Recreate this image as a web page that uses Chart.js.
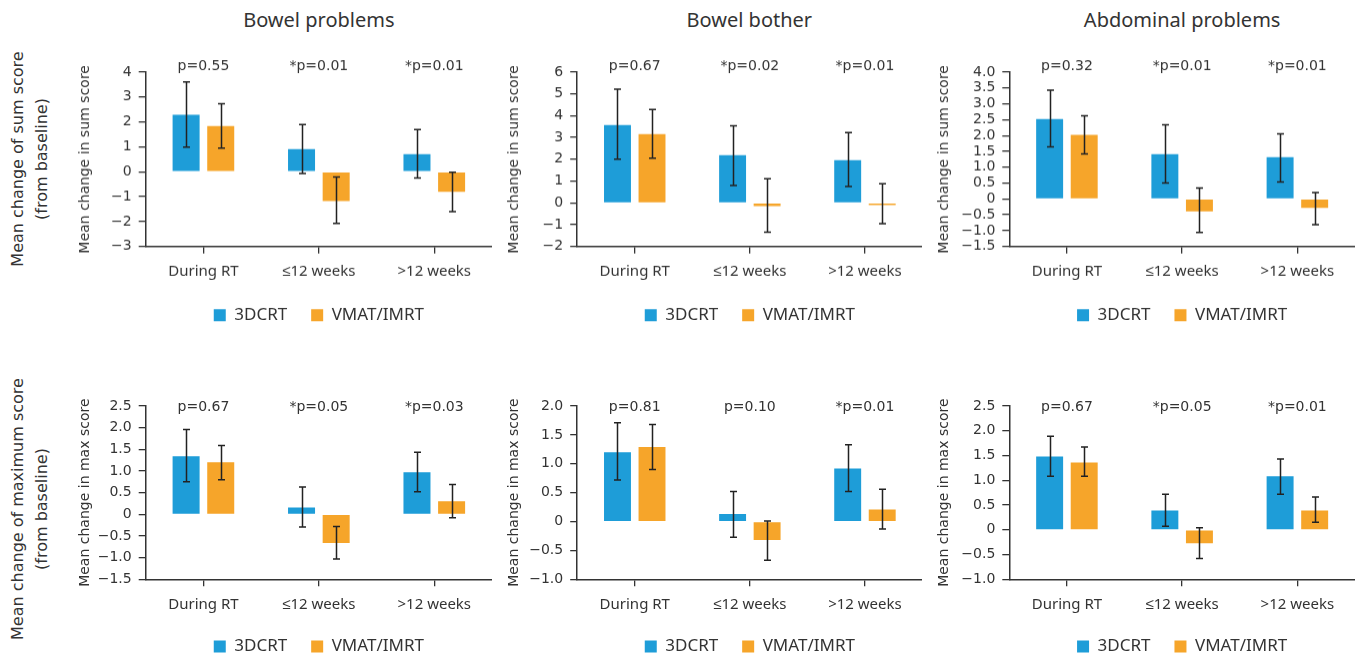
<!DOCTYPE html>
<html>
<head>
<meta charset="utf-8">
<script src="https://cdn.jsdelivr.net/npm/chart.js@4.4.1/dist/chart.umd.min.js"></script>
<style>
html, body { margin: 0; padding: 0; background: #fff; overflow: hidden; }
body { width: 1357px; height: 660px; position: relative; font-family: "DejaVu Sans", sans-serif; color: #333; }
.panel { position: absolute; }
.coltitle { position: absolute; top: 6px; font-family: "Noto Sans", sans-serif; font-size: 20px; transform: translateX(-50%); white-space: nowrap; color: #333; }
.rowtitle { position: absolute; font-size: 16px; line-height: 24px; text-align: center; white-space: nowrap; transform: translate(-50%, -50%) rotate(-90deg); color: #333; }
</style>
</head>
<body>
<script>
//categories and labels

const categories = ['During RT', '\u226412 weeks', '>12 weeks'];
const seriesNames = ['3DCRT', 'VMAT/IMRT'];
const columnTitles = ['Bowel problems', 'Bowel bother', 'Abdominal problems'];
const rowTitles = [['Mean change of sum score', '(from baseline)'], ['Mean change of maximum score', '(from baseline)']];
const yAxisTitles = ['Mean change in sum score', 'Mean change in max score'];

//bowel problems - sum score
const bowelProbSum3D = [2.29, 0.91, 0.71];
const bowelProbSum3DCI = [[0.99, 3.61], [-0.07, 1.89], [-0.25, 1.69]];
const bowelProbSumVM = [1.83, -1.18, -0.81];
const bowelProbSumVMCI = [[0.95, 2.73], [-2.08, -0.21], [-1.6, -0.02]];
const bowelProbSumP = ['p=0.55', '*p=0.01', '*p=0.01'];

//bowel bother - sum score
const bowelBotherSum3D = [3.57, 2.19, 1.96];
const bowelBotherSum3DCI = [[2.0, 5.22], [0.79, 3.54], [0.75, 3.23]];
const bowelBotherSumVM = [3.16, -0.15, -0.1];
const bowelBotherSumVMCI = [[2.05, 4.29], [-1.35, 1.11], [-0.96, 0.88]];
const bowelBotherSumP = ['p=0.67', '*p=0.02', '*p=0.01'];

//abdominal problems - sum score
const abdSum3D = [2.52, 1.41, 1.32];
const abdSum3DCI = [[1.64, 3.43], [0.5, 2.34], [0.53, 2.05]];
const abdSumVM = [2.02, -0.39, -0.28];
const abdSumVMCI = [[1.42, 2.62], [-1.06, 0.34], [-0.81, 0.2]];
const abdSumP = ['p=0.32', '*p=0.01', '*p=0.01'];

//bowel problems - max score
const bowelProbMax3D = [1.34, 0.16, 0.97];
const bowelProbMax3DCI = [[0.75, 1.96], [-0.29, 0.63], [0.52, 1.43]];
const bowelProbMaxVM = [1.2, -0.66, 0.3];
const bowelProbMaxVMCI = [[0.8, 1.59], [-1.03, -0.28], [-0.08, 0.69]];
const bowelProbMaxP = ['p=0.67', '*p=0.05', '*p=0.03'];

//bowel bother - max score
const bowelBotherMax3D = [1.2, 0.13, 0.92];
const bowelBotherMax3DCI = [[0.72, 1.71], [-0.27, 0.52], [0.52, 1.33]];
const bowelBotherMaxVM = [1.29, -0.32, 0.21];
const bowelBotherMaxVMCI = [[0.9, 1.68], [-0.67, 0.01], [-0.13, 0.56]];
const bowelBotherMaxP = ['p=0.81', 'p=0.10', '*p=0.01'];

//abdominal problems - max score
const abdMax3D = [1.48, 0.39, 1.08];
const abdMax3DCI = [[1.08, 1.89], [0.07, 0.72], [0.72, 1.43]];
const abdMaxVM = [1.36, -0.27, 0.39];
const abdMaxVMCI = [[1.08, 1.67], [-0.58, 0.04], [0.15, 0.66]];
const abdMaxP = ['p=0.67', '*p=0.05', '*p=0.01'];

//y axis ranges [min, max, step]
const yRanges = [[-3, 4, 1], [-2, 6, 1], [-1.5, 4, 0.5], [-1.5, 2.5, 0.5], [-1, 2, 0.5], [-1, 2.5, 0.5]];

//panel list (row by row)
const panels = [
	[bowelProbSum3D, bowelProbSum3DCI, bowelProbSumVM, bowelProbSumVMCI, bowelProbSumP],
	[bowelBotherSum3D, bowelBotherSum3DCI, bowelBotherSumVM, bowelBotherSumVMCI, bowelBotherSumP],
	[abdSum3D, abdSum3DCI, abdSumVM, abdSumVMCI, abdSumP],
	[bowelProbMax3D, bowelProbMax3DCI, bowelProbMaxVM, bowelProbMaxVMCI, bowelProbMaxP],
	[bowelBotherMax3D, bowelBotherMax3DCI, bowelBotherMaxVM, bowelBotherMaxVMCI, bowelBotherMaxP],
	[abdMax3D, abdMax3DCI, abdMaxVM, abdMaxVMCI, abdMaxP]
];

//layout
const plotLeft = [145.7, 576.7, 1009.3];
const plotRight = [492, 922, 1355];
const yTitleX = [86, 514.5, 945];
const rowPlotTop = [72.3, 405.7];
const rowPlotBottom = [246, 579];
const rowLegendY = [315, 646.7];
const rowPOffset = [-5.5, 1];
const rowLabelY = [159, 509];

const BLUE = '#1e9dd8';
const ORANGE = '#f6a52a';
const INK = '#333333';
const TICK_FONT = '"DejaVu Sans", sans-serif';

Chart.defaults.font.family = TICK_FONT;
Chart.defaults.color = INK;

//error bars
const errorBarPlugin = {
	id: 'errorBars',
	afterDatasetsDraw(chart) {
		const ctx = chart.ctx;
		const yScale = chart.scales.y;
		ctx.save();
		ctx.strokeStyle = '#222';
		ctx.lineWidth = 1.5;
		chart.data.datasets.forEach((ds, i) => {
			const meta = chart.getDatasetMeta(i);
			meta.data.forEach((bar, j) => {
				const lo = yScale.getPixelForValue(ds.errorBars[j][0]);
				const hi = yScale.getPixelForValue(ds.errorBars[j][1]);
				const x = Math.round(bar.x) + 0.5;
				ctx.beginPath();
				ctx.moveTo(x, lo);
				ctx.lineTo(x, hi);
				ctx.moveTo(x - 3.5, lo);
				ctx.lineTo(x + 3.5, lo);
				ctx.moveTo(x - 3.5, hi);
				ctx.lineTo(x + 3.5, hi);
				ctx.stroke();
			});
		});
		ctx.restore();
	}
};

//p values above each category
const pValuePlugin = {
	id: 'pValues',
	afterDraw(chart, args, opts) {
		const ctx = chart.ctx;
		const xScale = chart.scales.x;
		ctx.save();
		ctx.font = '14px ' + TICK_FONT;
		ctx.fillStyle = INK;
		ctx.textAlign = 'center';
		ctx.textBaseline = 'middle';
		opts.labels.forEach((t, j) => {
			ctx.fillText(t, xScale.getPixelForValue(j), chart.chartArea.top + opts.offset);
		});
		ctx.restore();
	}
};

function formatTick(value, step) {
	if (Math.abs(value) < 1e-9) return '0';
	const s = step < 1 ? value.toFixed(1) : value.toFixed(0);
	return s.replace('-', '\u2212');
}

//column titles
columnTitles.forEach((t, c) => {
	const d = document.createElement('div');
	d.className = 'coltitle';
	d.style.left = ((plotLeft[c] + plotRight[c]) / 2) + 'px';
	d.textContent = t;
	document.body.appendChild(d);
});

//row titles
rowTitles.forEach((lines, r) => {
	const d = document.createElement('div');
	d.className = 'rowtitle';
	d.style.left = '30px';
	d.style.top = rowLabelY[r] + 'px';
	d.innerHTML = lines.join('<br>');
	document.body.appendChild(d);
});

//build the six charts
panels.forEach((p, k) => {
	const r = Math.floor(k / 3);
	const c = k % 3;
	const [ymin, ymax, ystep] = yRanges[k];

	const left = yTitleX[c] - 19;
	const top = rowPlotTop[r] - 30;
	const bottom = rowLegendY[r] + 18;
	const width = plotRight[c] - left;
	const height = bottom - top;
	const legendHeight = 51;
	const xAxisHeight = (bottom - legendHeight) - rowPlotBottom[r];
	const yAxisWidth = plotLeft[c] - left;

	const div = document.createElement('div');
	div.className = 'panel';
	div.style.left = left + 'px';
	div.style.top = top + 'px';
	div.style.width = width + 'px';
	div.style.height = height + 'px';
	const canvas = document.createElement('canvas');
	div.appendChild(canvas);
	document.body.appendChild(div);

	new Chart(canvas.getContext('2d'), {
		type: 'bar',
		data: {
			labels: categories,
			datasets: [
				{ label: seriesNames[0], data: p[0], errorBars: p[1], backgroundColor: BLUE, borderWidth: 0 },
				{ label: seriesNames[1], data: p[2], errorBars: p[3], backgroundColor: ORANGE, borderWidth: 0 }
			]
		},
		options: {
			responsive: true,
			maintainAspectRatio: false,
			animation: false,
			categoryPercentage: 0.6,
			barPercentage: 0.78,
			layout: { padding: { top: 30, left: 0, right: 0, bottom: 0 } },
			plugins: {
				tooltip: { enabled: false },
				legend: {
					position: 'bottom',
					fullSize: false,
					labels: {
						boxWidth: 12,
						boxHeight: 12,
						padding: 24,
						color: INK,
						font: { family: '"Noto Sans", sans-serif', size: 17 }
					}
				},
				pValues: { labels: p[4], offset: rowPOffset[r] }
			},
			scales: {
				x: {
					grid: { display: true, offset: false, drawOnChartArea: false, drawTicks: true, tickLength: 7, color: INK, lineWidth: 1.3 },
					border: { display: true, color: INK, width: 1.5 },
					ticks: { padding: 9, color: INK, font: { family: '"Noto Sans", sans-serif', size: 15 } },
					afterFit(scale) { scale.height = xAxisHeight; }
				},
				y: {
					min: ymin,
					max: ymax,
					grid: { display: true, drawOnChartArea: false, drawTicks: true, tickLength: 7, color: INK, lineWidth: 1.3 },
					border: { display: true, color: INK, width: 1.5 },
					ticks: {
						stepSize: ystep,
						autoSkip: false,
						padding: 7,
						color: INK,
						font: { size: 14 },
						callback: (v) => formatTick(v, ystep)
					},
					title: {
						display: true,
						text: yAxisTitles[r],
						color: INK,
						font: { size: 14 },
						padding: { top: 10, bottom: 0 }
					},
					afterFit(scale) { scale.width = yAxisWidth; }
				}
			}
		},
		plugins: [errorBarPlugin, pValuePlugin]
	});
});
</script>
</body>
</html>
